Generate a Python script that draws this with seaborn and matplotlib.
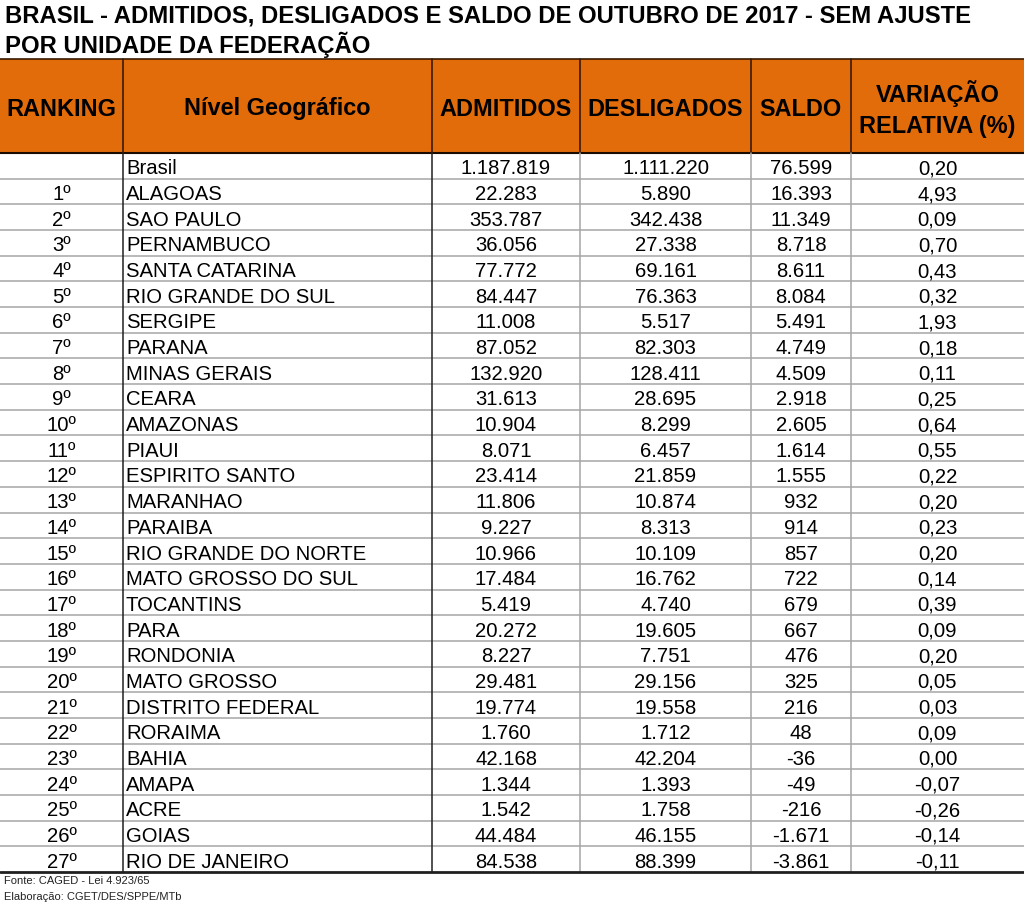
import matplotlib
matplotlib.use("Agg")
import matplotlib.pyplot as plt
import seaborn as sns
import pandas as pd

# --- dados ---
ranking = ["", "1º", "2º", "3º", "4º", "5º", "6º", "7º", "8º", "9º", "10º", "11º", "12º", "13º",
           "14º", "15º", "16º", "17º", "18º", "19º", "20º", "21º", "22º", "23º", "24º", "25º",
           "26º", "27º"]
nivel = ["Brasil", "ALAGOAS", "SAO PAULO", "PERNAMBUCO", "SANTA CATARINA", "RIO GRANDE DO SUL",
         "SERGIPE", "PARANA", "MINAS GERAIS", "CEARA", "AMAZONAS", "PIAUI", "ESPIRITO SANTO",
         "MARANHAO", "PARAIBA", "RIO GRANDE DO NORTE", "MATO GROSSO DO SUL", "TOCANTINS",
         "PARA", "RONDONIA", "MATO GROSSO", "DISTRITO FEDERAL", "RORAIMA", "BAHIA", "AMAPA",
         "ACRE", "GOIAS", "RIO DE JANEIRO"]
admitidos = [1187819, 22283, 353787, 36056, 77772, 84447, 11008, 87052, 132920, 31613, 10904,
             8071, 23414, 11806, 9227, 10966, 17484, 5419, 20272, 8227, 29481, 19774, 1760,
             42168, 1344, 1542, 44484, 84538]
desligados = [1111220, 5890, 342438, 27338, 69161, 76363, 5517, 82303, 128411, 28695, 8299,
              6457, 21859, 10874, 8313, 10109, 16762, 4740, 19605, 7751, 29156, 19558, 1712,
              42204, 1393, 1758, 46155, 88399]
saldo = [76599, 16393, 11349, 8718, 8611, 8084, 5491, 4749, 4509, 2918, 2605, 1614, 1555, 932,
         914, 857, 722, 679, 667, 476, 325, 216, 48, -36, -49, -216, -1671, -3861]
variacao = [0.20, 4.93, 0.09, 0.70, 0.43, 0.32, 1.93, 0.18, 0.11, 0.25, 0.64, 0.55, 0.22, 0.20,
            0.23, 0.20, 0.14, 0.39, 0.09, 0.20, 0.05, 0.03, 0.09, 0.00, -0.07, -0.26, -0.14,
            -0.11]

cabecalho = ["RANKING", "Nível Geográfico", "ADMITIDOS", "DESLIGADOS", "SALDO",
             "VARIAÇÃO\nRELATIVA (%)"]

df = pd.DataFrame({"ranking": ranking, "nivel": nivel, "admitidos": admitidos,
                   "desligados": desligados, "saldo": saldo, "variacao": variacao})


def fmt_int(v):
    return f"{v:,}".replace(",", ".")


def fmt_dec(v):
    return f"{v:.2f}".replace(".", ",")


# --- layout ---
sns.set_theme(style="white")
plt.rcParams["font.family"] = ["Liberation Sans", "DejaVu Sans"]
plt.rcParams["text.color"] = "black"

W, H = 1024, 903
fig = plt.figure(figsize=(W / 100, H / 100), dpi=100)
ax = fig.add_axes([0, 0, 1, 1])
ax.set_xlim(0, W)
ax.set_ylim(H, 0)
ax.axis("off")

bordas = [0, 123, 432, 580, 751, 851, 1024]
topo_cab, base_cab = 60, 154
base_tab = 873
n = len(df)
alt = (base_tab - base_cab) / n
laranja = "#E26B0A"
fs = 14.6

# titulo
ax.text(5, 23, "BRASIL - ADMITIDOS, DESLIGADOS E SALDO DE OUTUBRO DE 2017 - SEM AJUSTE",
        fontsize=17.2, fontweight="bold", va="baseline", ha="left")
ax.text(5, 53, "POR UNIDADE DA FEDERAÇÃO", fontsize=17.2, fontweight="bold",
        va="baseline", ha="left")

# cabecalho
ax.add_patch(plt.Rectangle((0, topo_cab), W, base_cab - topo_cab, color=laranja, lw=0))
ax.plot([0, W], [topo_cab, topo_cab], color="#3a1a00", lw=1.2)
ax.plot([0, W], [base_cab, base_cab], color="#1a0a00", lw=1.5)
for xb in bordas[1:-1]:
    ax.plot([xb, xb], [topo_cab, base_cab], color="#3a1a00", lw=1.2)
for i, txt in enumerate(cabecalho):
    xc = (bordas[i] + bordas[i + 1]) / 2
    ax.text(xc, (topo_cab + base_cab) / 2 + 2, txt, fontsize=16.9, fontweight="bold",
            ha="center", va="center", linespacing=1.45)

# linhas do corpo
for r in range(1, n):
    y = base_cab + r * alt
    ax.plot([0, W], [y, y], color="#a6a6a6", lw=1.1)
for xb, cor in zip(bordas[1:-1], ["#202020", "#202020", "#a6a6a6", "#a6a6a6", "#a6a6a6"]):
    ax.plot([xb, xb], [base_cab, base_tab], color=cor, lw=1.1)
ax.plot([0, W], [base_tab, base_tab], color="#202020", lw=2)

# valores
for r, row in df.iterrows():
    yb = base_cab + (r + 0.5) * alt + 7.5
    ax.text((bordas[0] + bordas[1]) / 2, yb, row["ranking"], fontsize=fs,
            ha="center", va="baseline")
    ax.text(bordas[1] + 3, yb, row["nivel"], fontsize=fs, ha="left", va="baseline")
    valores = [fmt_int(row["admitidos"]), fmt_int(row["desligados"]),
               fmt_int(row["saldo"]), fmt_dec(row["variacao"])]
    for j, v in enumerate(valores):
        xc = (bordas[j + 2] + bordas[j + 3]) / 2
        ax.text(xc, yb, v, fontsize=fs, ha="center", va="baseline")

# rodape
ax.text(4, 884, "Fonte: CAGED - Lei 4.923/65", fontsize=8, color="#222222",
        ha="left", va="baseline")
ax.text(4, 900, "Elaboração: CGET/DES/SPPE/MTb", fontsize=8, color="#222222",
        ha="left", va="baseline")

fig.savefig("out.png", dpi=100)
